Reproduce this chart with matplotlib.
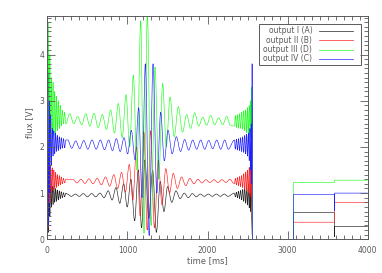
import numpy as np
import matplotlib
matplotlib.use("Agg")
from matplotlib import pyplot as plt
from matplotlib.ticker import MultipleLocator
from matplotlib.patches import Rectangle, PathPatch
from matplotlib.path import Path


# fringe scan (ms / V)

# fast ringing after the start of the scan (alternating high / low)
t_start = [0, 8, 16, 24, 32, 42, 52, 62, 72, 82, 93, 104, 115, 126, 138,
           150, 162, 175, 188, 202, 216, 231]

# slow fringes of the main scan: peak times and trough times
t_peak = [280, 380, 480, 583, 687, 791, 887, 983, 1074, 1166, 1249, 1345,
          1440, 1532, 1636, 1740, 1840, 1940, 2040, 2140, 2240]
t_trough = [330, 430, 531, 635, 739, 839, 935, 1028, 1120, 1207, 1297, 1392,
            1486, 1584, 1688, 1790, 1890, 1990, 2090, 2190, 2285]

# fast ringing before the end of the scan
t_end = [2335, 2348, 2361, 2374, 2387, 2400, 2413, 2426, 2439, 2452, 2465,
         2477, 2489, 2500, 2511, 2521, 2530, 2538, 2545, 2552, 2557]

# dark part and the two photometry steps
t_dark = [2562, 3072]
t_steps = [3072, 3584, 4000]

labels = ["output I (A)", "output II (B)", "output III (D)", "output IV (C)"]
colors = ["#202020", "#ff2020", "#20ff20", "#2020ff"]
phase_shift = [-30, 40, 0, -25]   # ms, fringe shift of each output

start_A = [0.10, 1.20, 0.15, 1.10, 0.50, 1.15, 0.70, 1.15, 0.75, 1.12, 0.80,
           1.10, 0.82, 1.07, 0.85, 1.05, 0.88, 1.03, 0.90, 1.01, 0.92, 1.00]
start_B = [0.20, 1.70, 0.25, 1.65, 0.80, 1.60, 1.00, 1.55, 1.05, 1.50, 1.10,
           1.45, 1.12, 1.40, 1.15, 1.38, 1.18, 1.35, 1.20, 1.32, 1.22, 1.30]
start_D = [4.80, 1.80, 4.70, 1.70, 4.00, 2.00, 3.50, 2.20, 3.40, 2.25, 3.20,
           2.30, 3.10, 2.35, 3.00, 2.40, 2.90, 2.45, 2.80, 2.50, 2.75, 2.50]
start_C = [0.20, 3.60, 0.30, 3.00, 1.00, 2.70, 1.60, 2.40, 1.80, 2.35, 1.85,
           2.30, 1.90, 2.25, 1.92, 2.22, 1.95, 2.20, 1.97, 2.18, 1.98, 2.15]

peak_A = [0.98, 0.98, 0.99, 0.99, 1.00, 1.05, 1.12, 1.20, 1.30, 1.50, 1.72,
          1.50, 1.25, 1.14, 1.05, 1.00, 0.99, 0.98, 0.98, 0.98, 0.98]
trough_A = [0.93, 0.93, 0.92, 0.92, 0.90, 0.85, 0.78, 0.70, 0.40, 0.25, 0.45,
            0.15, 0.60, 0.80, 0.88, 0.90, 0.92, 0.93, 0.93, 0.93, 0.93]
peak_B = [1.30, 1.30, 1.31, 1.32, 1.35, 1.40, 1.45, 1.62, 2.00, 2.33, 2.35,
          1.71, 1.53, 1.43, 1.35, 1.32, 1.30, 1.29, 1.29, 1.29, 1.30]
trough_B = [1.22, 1.21, 1.20, 1.18, 1.15, 1.10, 1.02, 0.85, 0.50, 0.20, 0.25,
            0.75, 1.00, 1.10, 1.16, 1.20, 1.22, 1.23, 1.23, 1.23, 1.22]
peak_D = [2.72, 2.66, 2.72, 2.73, 2.70, 2.80, 2.94, 3.13, 3.55, 4.73, 4.90,
          3.73, 3.37, 3.08, 2.87, 2.70, 2.74, 2.64, 2.68, 2.63, 2.66]
trough_D = [2.50, 2.48, 2.45, 2.42, 2.38, 2.30, 2.20, 2.00, 1.50, 0.13, 0.30,
            1.30, 2.00, 2.22, 2.32, 2.40, 2.45, 2.47, 2.48, 2.48, 2.47]
peak_C = [2.15, 2.13, 2.14, 2.15, 2.15, 2.15, 2.18, 2.20, 2.36, 2.85, 3.80,
          3.80, 2.75, 2.36, 2.22, 2.16, 2.15, 2.15, 2.14, 2.15, 2.15]
trough_C = [1.97, 1.96, 1.95, 1.95, 1.94, 1.92, 1.90, 1.85, 1.72, 0.90, 0.08,
            1.00, 1.70, 1.85, 1.90, 1.93, 1.95, 1.95, 1.96, 1.95, 1.95]

end_A = [1.00, 0.92, 1.02, 0.90, 1.04, 0.88, 1.06, 0.85, 1.08, 0.82, 1.10,
         0.78, 1.14, 0.74, 1.18, 0.68, 1.22, 0.60, 1.28, 0.45, 0.13]
end_B = [1.20, 1.32, 1.18, 1.34, 1.16, 1.36, 1.14, 1.38, 1.12, 1.42, 1.08,
         1.46, 1.04, 1.50, 1.00, 1.56, 0.95, 1.62, 0.90, 1.72, 0.50]
end_D = [2.45, 2.68, 2.42, 2.70, 2.40, 2.72, 2.40, 2.75, 2.38, 2.78, 2.35,
         2.80, 2.30, 2.85, 2.25, 2.90, 2.20, 3.00, 2.10, 3.30, 2.60]
end_C = [2.15, 1.95, 2.17, 1.93, 2.18, 1.92, 2.20, 1.90, 2.22, 1.88, 2.25,
         1.85, 2.28, 1.80, 2.30, 1.70, 2.40, 1.50, 2.50, 1.20, 3.80]

# photometry levels: first step, value at the switch, second step
step_A = [0.58, 0.05, 0.28]
step_B = [0.37, 0.37, 0.80]
step_D = [1.23, 1.23, 1.28]
step_C = [0.97, 0.62, 1.00]

starts = [start_A, start_B, start_D, start_C]
peaks = [peak_A, peak_B, peak_D, peak_C]
troughs = [trough_A, trough_B, trough_D, trough_C]
ends = [end_A, end_B, end_D, end_C]
steps = [step_A, step_B, step_D, step_C]


def fringe_path(k):
    # extrema of the fringes, joined by smooth curves with flat tops
    tp = np.array(t_peak) + phase_shift[k]
    tt = np.array(t_trough) + phase_shift[k]
    t = np.concatenate([t_start, np.column_stack([tp, tt]).ravel(), t_end])
    v = np.concatenate([starts[k], np.column_stack([peaks[k], troughs[k]]).ravel(),
                        ends[k]])
    verts = [(t[0], v[0])]
    codes = [Path.MOVETO]
    for i in range(1, len(t)):
        dt = t[i] - t[i - 1]
        verts += [(t[i - 1] + dt / 3, v[i - 1]), (t[i] - dt / 3, v[i]), (t[i], v[i])]
        codes += [Path.CURVE4] * 3
    # dark part and photometry steps as straight lines
    s1, s_sw, s2 = steps[k]
    tail_t = t_dark + [t_steps[0], t_steps[1], t_steps[1], t_steps[1], t_steps[2]]
    tail_v = [0, 0, s1, s1, s_sw, s2, s2]
    for x, y in zip(tail_t, tail_v):
        verts.append((x, y))
        codes.append(Path.LINETO)
    return Path(verts, codes)


gray = "#5a5a5a"
plt.rcParams["font.family"] = "DejaVu Sans"

fig = plt.figure(figsize=(3.82, 2.73), dpi=100)
ax = fig.add_axes([0.1238, 0.1234, 0.8388, 0.8191])

for k in range(4):
    ax.add_patch(PathPatch(fringe_path(k), fill=False, edgecolor=colors[k], lw=0.45))

ax.set_xlim(0, 4000)
ax.set_ylim(0, 4.84)
ax.xaxis.set_major_locator(MultipleLocator(1000))
ax.xaxis.set_minor_locator(MultipleLocator(100))
ax.yaxis.set_major_locator(MultipleLocator(1))
ax.yaxis.set_minor_locator(MultipleLocator(0.1))
ax.tick_params(which="both", direction="in", top=True, right=True,
               color=gray, width=0.6, labelsize=5.5, labelcolor=gray)
ax.tick_params(which="major", length=6)
ax.tick_params(which="minor", length=3)
ax.tick_params(axis="x", pad=4.5)
ax.tick_params(axis="y", pad=2.2)
for s in ax.spines.values():
    s.set_color(gray)
    s.set_linewidth(0.7)

ax.set_xlabel("time [ms]", fontsize=6, color=gray)
ax.set_ylabel("flux [V]", fontsize=6, color=gray)
ax.xaxis.set_label_coords(0.5, -0.075)
ax.yaxis.set_label_coords(-0.042, 0.52)

# legend box, drawn by hand
ax.add_patch(Rectangle((0.660, 0.7795), 0.319, 0.182, transform=ax.transAxes,
                       fill=False, edgecolor=gray, lw=0.7, zorder=5))
row_y = [0.932, 0.890, 0.848, 0.808]
for k in range(4):
    ax.text(0.827, row_y[k], labels[k], transform=ax.transAxes, ha="right",
            va="center", fontsize=5.5, color=gray, zorder=6)
    ax.plot([0.848, 0.953], [row_y[k], row_y[k]], transform=ax.transAxes,
            color=colors[k], lw=0.5, zorder=6)

fig.savefig("out.png", dpi=100)
